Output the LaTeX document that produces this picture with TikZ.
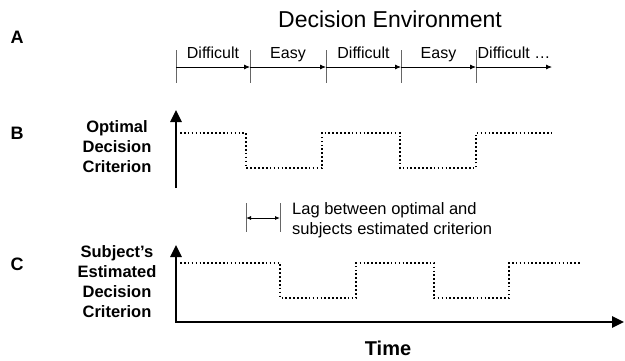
\documentclass[tikz,border=0pt]{standalone}
\usepackage{fontspec}
\setmainfont{Liberation Sans}
\usetikzlibrary{arrows.meta,positioning}

\begin{document}
\begin{tikzpicture}[x=1pt, y=-1pt,
    lbl/.style={font=\fontsize{16}{20}\selectfont, inner sep=0pt},
    axlbl/.style={font=\fontsize{16.5}{20}\selectfont\bfseries, align=center, inner sep=0pt},
    panel/.style={font=\fontsize{18}{20}\selectfont\bfseries, inner sep=0pt},
    seg/.style={-{Latex[length=6pt,width=5pt]}, line width=0.8pt},
    tickline/.style={line width=0.8pt, black!60},
    axis/.style={line width=2.6pt},
    crit/.style={line width=1.6pt, dash pattern=on 1.6pt off 2.3pt}]
  \useasboundingbox (0,0) rectangle (625,360);

  % A: the environment
  \node[lbl, font=\fontsize{23}{25}\selectfont, name=env] at (390,19) {Decision Environment};
  \node[panel, name=pa] at (17,37) {A};
  \foreach \i/\x in {0/176,1/250,2/326,3/401,4/476} {
    \coordinate (t\i) at (\x,67);
    \coordinate (tu\i) at (\x,50);
    \coordinate (td\i) at (\x,83);
    \draw[tickline] (tu\i) -- (td\i);
  }
  \coordinate (tend) at (552,67);
  \path[seg]
     (t0) edge node[lbl, anchor=base, yshift=9pt] {Difficult} (t1)
     (t1) edge node[lbl, anchor=base, yshift=9pt] {Easy} (t2)
     (t2) edge node[lbl, anchor=base, yshift=9pt] {Difficult} (t3)
     (t3) edge node[lbl, anchor=base, yshift=9pt] {Easy} (t4)
     (t4) edge node[lbl, anchor=base, yshift=9pt] {Difficult \dots} (tend);

  % B: optimal criterion
  \node[panel, name=pb] at (17,133) {B};
  \node[axlbl, name=optlbl] at (117,147) {Optimal\\Decision\\Criterion};
  \coordinate (ob) at (176,188);
  \coordinate (ot) at (176,110);
  \draw[axis, -{Triangle[length=12pt,width=11pt]}] (ob) -- (ot);
  \draw[crit] (180,133) -- (246,133) -- (246,168) -- (322,168) -- (322,133)
     -- (400,133) -- (400,168) -- (476,168) -- (476,133) -- (551,133);

  % lag
  \coordinate (lu1) at (246,203);
  \coordinate (ld1) at (246,232);
  \coordinate (lu2) at (280,203);
  \coordinate (ld2) at (280,232);
  \coordinate (ll) at (246,218);
  \coordinate (lr) at (280,218);
  \draw[tickline] (lu1) -- (ld1);
  \draw[tickline] (lu2) -- (ld2);
  \draw[{Latex[length=5pt,width=4pt]}-{Latex[length=5pt,width=4pt]}, line width=0.8pt] (ll) -- (lr);
  \coordinate (lm) at (280,220);
  \node[lbl, font=\fontsize{16.5}{20}\selectfont, align=left, anchor=west, right=12pt of lm, name=lagtxt]
     {Lag between optimal and\\subjects estimated criterion};

  % C: subject's criterion
  \node[panel, name=pc] at (17,264) {C};
  \node[axlbl, name=sublbl] at (117,282) {Subject’s\\Estimated\\Decision\\Criterion};
  \coordinate (ct) at (176,245);
  \coordinate (co) at (176,322);
  \coordinate (cr) at (624,322);
  \draw[axis, {Triangle[length=12pt,width=11pt]}-{Triangle[length=12pt,width=11pt]}] (ct) -- (co) -- (cr);
  \draw[crit] (180,263) -- (280,263) -- (280,298) -- (356,298) -- (356,263)
     -- (434,263) -- (434,298) -- (509,298) -- (509,263) -- (582,263);
  \node[axlbl, font=\fontsize{20}{22}\selectfont\bfseries, name=time] at (388,348) {Time};
\end{tikzpicture}
\end{document}
